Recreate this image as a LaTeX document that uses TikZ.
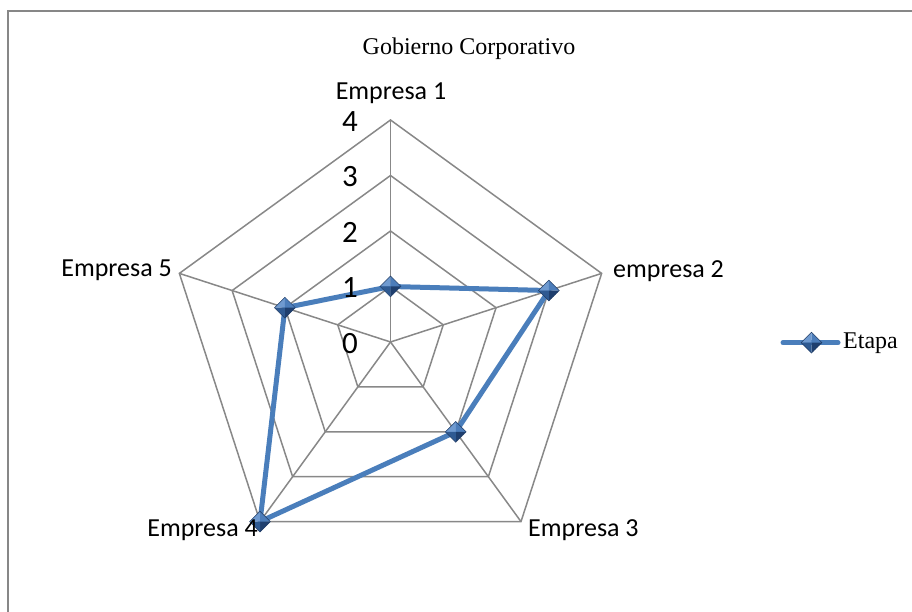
\documentclass[tikz,border=0pt]{standalone}
\usepackage{fontspec}
\setmainfont{Liberation Serif}
\newfontfamily\calib{Carlito}
\usetikzlibrary{shapes.geometric,calc,backgrounds}
\definecolor{framegray}{HTML}{878787}
\definecolor{gridgray}{HTML}{888888}
\definecolor{serieblue}{HTML}{4A7EBB}
\definecolor{facetA}{HTML}{6F9AD0}
\definecolor{facetB}{HTML}{4C7DBA}
\definecolor{facetC}{HTML}{1F3F6E}
\definecolor{facetD}{HTML}{2F5A92}
\definecolor{facetedge}{HTML}{1F3C66}
\tikzset{
  gridline/.style={draw=gridgray, line width=1.5},
  serie/.style={draw=serieblue, line width=5, line join=round},
  bevelmark/.style={diamond, inner sep=0, minimum width=21, minimum height=21,
    draw=facetedge, line width=0.5,
    path picture={
      \fill[facetA] (path picture bounding box.center) -- (path picture bounding box.west) -- (path picture bounding box.north) -- cycle;
      \fill[facetB] (path picture bounding box.center) -- (path picture bounding box.north) -- (path picture bounding box.east) -- cycle;
      \fill[facetC] (path picture bounding box.center) -- (path picture bounding box.east) -- (path picture bounding box.south) -- cycle;
      \fill[facetD] (path picture bounding box.center) -- (path picture bounding box.south) -- (path picture bounding box.west) -- cycle;
    }},
  catlabel/.style={inner sep=0, font=\calib\fontsize{26}{30}\selectfont},
  ticklabel/.style={inner sep=0, font=\calib\fontsize{31}{36}\selectfont},
  serif24/.style={inner sep=0, font=\fontsize{24}{28}\selectfont}
}
\begin{document}
\begin{tikzpicture}[x=1pt,y=1pt]
\useasboundingbox (0,0) rectangle (912,612);

% chart frame
\draw[framegray, line width=1.3] (8,0) -- (8,601) -- (912,601);

% title
\node[serif24, anchor=base] (title) at (469,557) {Gobierno Corporativo};

\begin{scope}[shift={(390.5,270)}]
  % web grid
  \begin{pgfonlayer}{background}
    \foreach \k in {1,...,4} {
      \draw[gridline] (90:\k*55.5) -- (18:\k*55.5) -- (-54:\k*55.5)
        -- (-126:\k*55.5) -- (162:\k*55.5) -- cycle;
    }
    \foreach \a in {90,18,-54,-126,162} {
      \draw[gridline] (0,0) -- (\a:222);
    }
  \end{pgfonlayer}

  % scale values
  \foreach \k in {0,...,4} {
    \node[ticklabel] (tick\k) at (-40.5,\k*55.5-1.5) {\k};
  }

  % series markers
  \node[bevelmark] (m1) at (90:55.5) {};
  \node[bevelmark] (m2) at (18:166.5) {};
  \node[bevelmark] (m3) at (-54:111) {};
  \node[bevelmark] (m4) at (-126:222) {};
  \node[bevelmark] (m5) at (162:111) {};

  \begin{pgfonlayer}{background}
    \draw[serie] (m1.center) -- (m2.center) -- (m3.center) -- (m4.center)
      -- (m5.center) -- cycle;
  \end{pgfonlayer}
\end{scope}

% category labels
\node[catlabel, anchor=base] (c1) at (391,512) {Empresa 1};
\node[catlabel, anchor=base west] (c2) at (613,334) {empresa 2};
\node[catlabel, anchor=base west] (c3) at (528,75) {Empresa 3};
\node[catlabel, anchor=base east] (c4) at (258,75) {Empresa 4};
\node[catlabel, anchor=base east] (c5) at (172,335) {Empresa 5};

% legend
\coordinate (l0) at (783,269.3);
\coordinate (l1) at (838,269.3);
\draw[serie, line cap=round] (l0) -- (l1);
\node[bevelmark] (lm) at (811.5,269.3) {};
\node[serif24, anchor=base west] (legtext) at (843,263.7) {Etapa};
\end{tikzpicture}
\end{document}
